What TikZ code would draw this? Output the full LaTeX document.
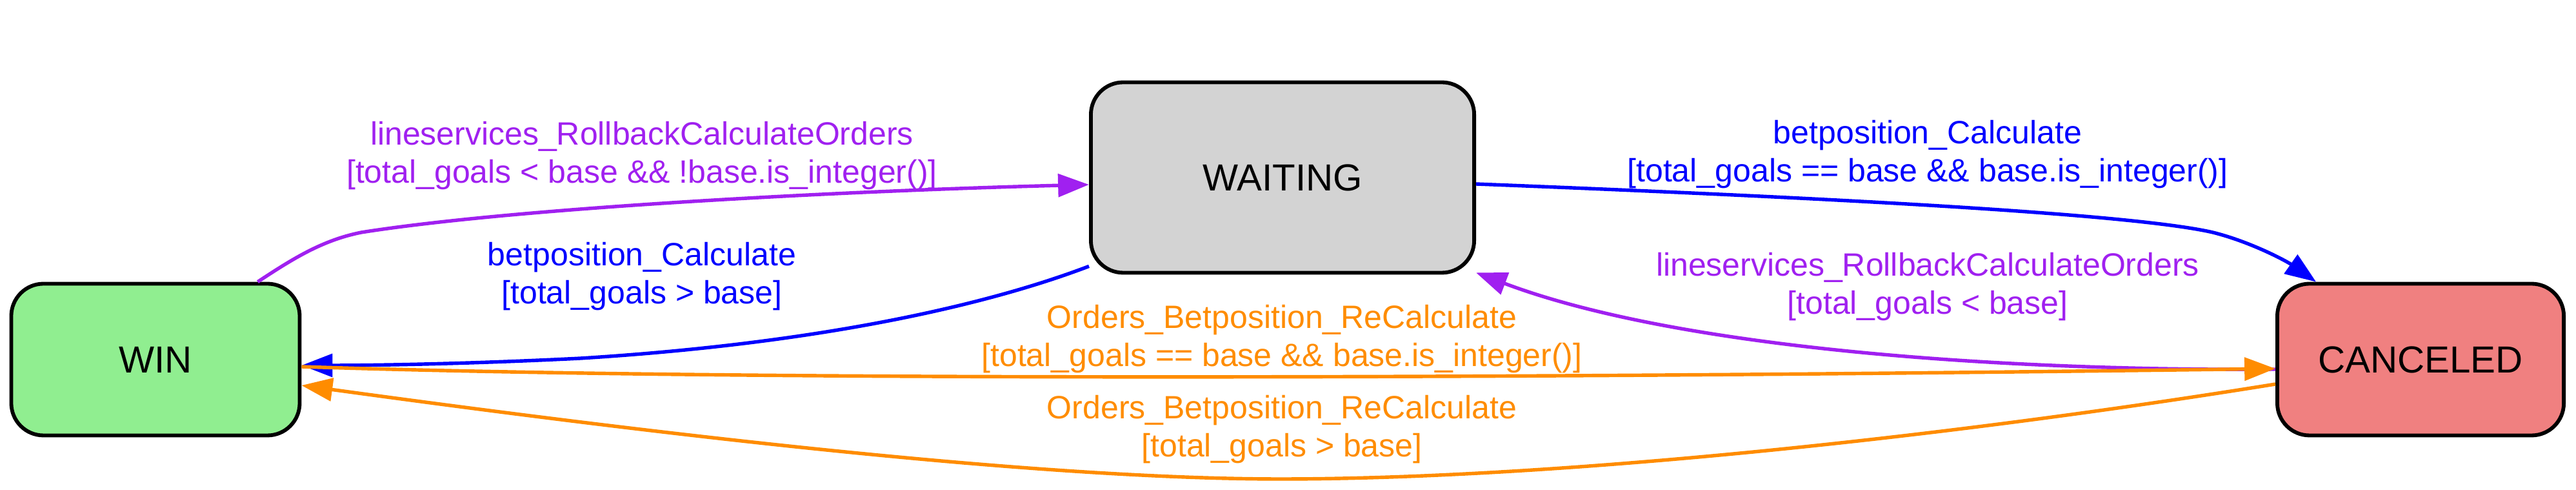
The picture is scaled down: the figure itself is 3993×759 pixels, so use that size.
\documentclass[tikz,border=0pt]{standalone}
\usepackage{fontspec}
\setmainfont{Liberation Sans}
\usepackage{tikz}
\usetikzlibrary{
  arrows.meta,
  calc,
  positioning,
}
\tikzstyle{transition} = [
  -{Triangle[length=11.5pt, width=8.5pt]},
  line width=1.3pt,
]
\tikzstyle{guard} = [
  align=center,
  inner sep=0pt,
  font=\fontsize{12}{14}\selectfont,
]
\definecolor{gvpurple}{RGB}{160, 32, 240}
\definecolor{gvblue}{RGB}{0, 0, 255}
\definecolor{gvorange}{RGB}{255, 140, 0}
\definecolor{gvgreen}{RGB}{144, 238, 144}
\definecolor{gvgray}{RGB}{211, 211, 211}
\definecolor{gvcoral}{RGB}{240, 128, 128}

\begin{document}
\begin{tikzpicture}[x=0.24pt, y=-0.24pt,
                    state/.style={draw, line width=1.4pt, rounded corners=12pt,
                                  inner sep=0pt, font=\fontsize{14}{16.8}\selectfont}]
      \useasboundingbox (0,0) rectangle (3993,759);

      % states
      \node [state, fill=gvgreen, minimum width=107.3pt, minimum height=56.4pt]
            (win) at (241,557) {WIN};
      \node [state, fill=gvgray, minimum width=142.6pt, minimum height=70.8pt]
            (waiting) at (1988,275) {WAITING};
      \node [state, fill=gvcoral, minimum width=106.6pt, minimum height=56.4pt]
            (canceled) at (3752,557) {CANCELED};

      % transitions
      \draw [transition, gvpurple] ($(win.north east)+(-68,0)$)
            .. controls (455,400) and (500,372) .. (560,360)
            .. controls (800,322) and (1300,296) .. ($(waiting.west)+(0,11)$);
      \draw [transition, gvblue] ($(waiting.south west)+(0,-13)$)
            .. controls (1550,465) and (1300,530) .. (900,555)
            .. controls (700,565) and (550,566) .. ($(win.east)+(0,9)$);
      \draw [transition, gvblue] ($(waiting.east)+(0,10)$)
            .. controls (2800,305) and (3300,330) .. (3430,360)
            .. controls (3490,375) and (3545,405) .. ($(canceled.north west)+(63,0)$);
      \draw [transition, gvpurple] ($(canceled.west)+(0,15)$)
            .. controls (3100,575) and (2600,540) .. ($(waiting.south east)+(0,-3)$);
      \draw [transition, gvorange] ($(win.east)+(0,11)$)
            .. controls (1200,592) and (2500,585) .. ($(canceled.west)+(0,14)$);
      \draw [transition, gvorange] ($(canceled.west)+(0,38)$)
            .. controls (3000,680) and (2400,742) .. (1985,742)
            .. controls (1600,742) and (1000,670) .. ($(win.east)+(0,40)$);

      % guards
      \node [guard, gvpurple] (rollbackwin) at (995,241)
            {lineservices\_RollbackCalculateOrders\\{[}total\_goals < base \&\& !base.is\_integer()]};
      \node [guard, gvblue] (calcwin) at (995,428)
            {betposition\_Calculate\\{[}total\_goals > base]};
      \node [guard, gvblue] (calccanceled) at (2988,239)
            {betposition\_Calculate\\{[}total\_goals == base \&\& base.is\_integer()]};
      \node [guard, gvpurple] (rollbackcanceled) at (2988,444)
            {lineservices\_RollbackCalculateOrders\\{[}total\_goals < base]};
      \node [guard, gvorange] (recalccanceled) at (1987,525)
            {Orders\_Betposition\_ReCalculate\\{[}total\_goals == base \&\& base.is\_integer()]};
      \node [guard, gvorange] (recalcwin) at (1987,665)
            {Orders\_Betposition\_ReCalculate\\{[}total\_goals > base]};
    \end{tikzpicture}
\end{document}
